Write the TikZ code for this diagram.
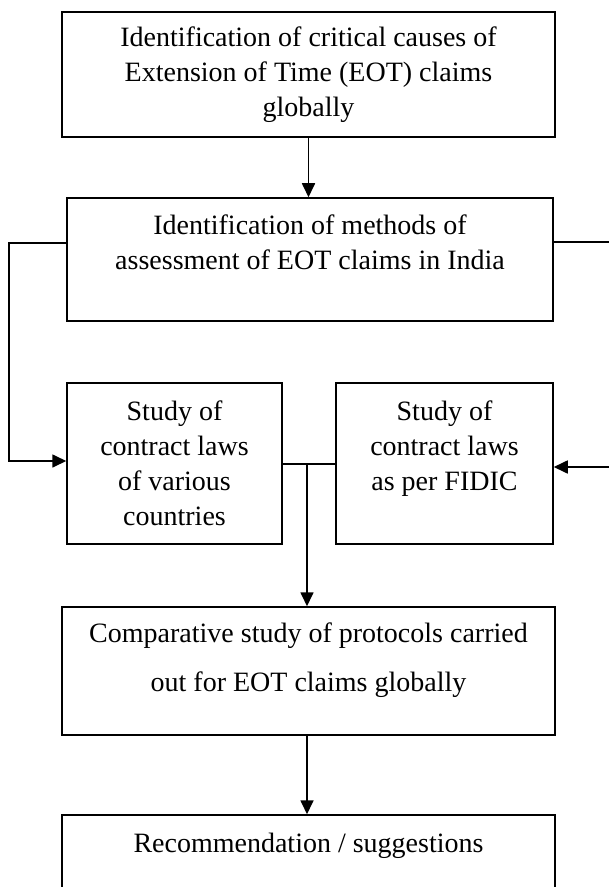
\documentclass[tikz,border=0pt]{standalone}
\usepackage{fontspec}
\setmainfont{Liberation Serif}
\usepackage{tikz}
\usetikzlibrary{arrows.meta,calc,positioning}
\begin{document}
\begin{tikzpicture}[x=0.5pt,y=-0.5pt,
  box/.style={draw,line width=0.75pt,align=center,inner sep=0pt,
    font=\fontsize{14}{17.5}\selectfont},
  flow/.style={line width=0.85pt,-{Triangle[length=7pt,width=6.5pt]}},
  link/.style={line width=0.85pt}]
\useasboundingbox (0,0) rectangle (609,887);
\clip (0,0) rectangle (609,887);
\node[box,minimum width=246.5pt,minimum height=62.5pt] (causes) at (308.5,74.5)
  {Identification of critical causes of\\Extension of Time (EOT) claims\\globally};
\node[box,minimum width=243pt,minimum height=61.5pt] (methods) at (310,259.5)
  {Identification of methods of\\assessment of EOT claims in India\\ ~};
\node[box,minimum width=107.5pt,minimum height=80.5pt] (various) at (174.5,463.5)
  {Study of\\contract laws\\of various\\countries};
\node[box,minimum width=108.5pt,minimum height=80.5pt] (fidic) at (444.5,463.5)
  {Study of\\contract laws\\as per FIDIC\\ ~};
\node[box,minimum width=246.5pt,minimum height=64pt,font=\fontsize{14}{24.5}\selectfont] (protocols) at (308.5,671)
  {Comparative study of protocols carried\\out for EOT claims globally\\[-11pt] ~};
\node[box,minimum width=246.5pt,minimum height=62.5pt] (suggest) at (308.5,877.5)
  {Recommendation / suggestions\\ ~\\ ~};
\coordinate (lt) at (9,243);
\coordinate (lb) at (9,461);
\coordinate (rt) at (613,242);
\coordinate (rb) at (613,467);
\coordinate (jn) at (307,464);
\draw[flow] (causes.south) -- (causes.south |- methods.north);
\draw[flow] (methods.west |- lt) -- (lt) -- (lb) -- (lb -| various.west);
\draw[flow] (methods.east |- rt) -- (rt) -- (rb) -- (rb -| fidic.east);
\draw[link] (various.east |- jn) -- (fidic.west |- jn);
\draw[flow] (jn) -- (jn |- protocols.north);
\draw[flow] (protocols.south -| jn) -- (suggest.north -| jn);
\end{tikzpicture}
\end{document}
